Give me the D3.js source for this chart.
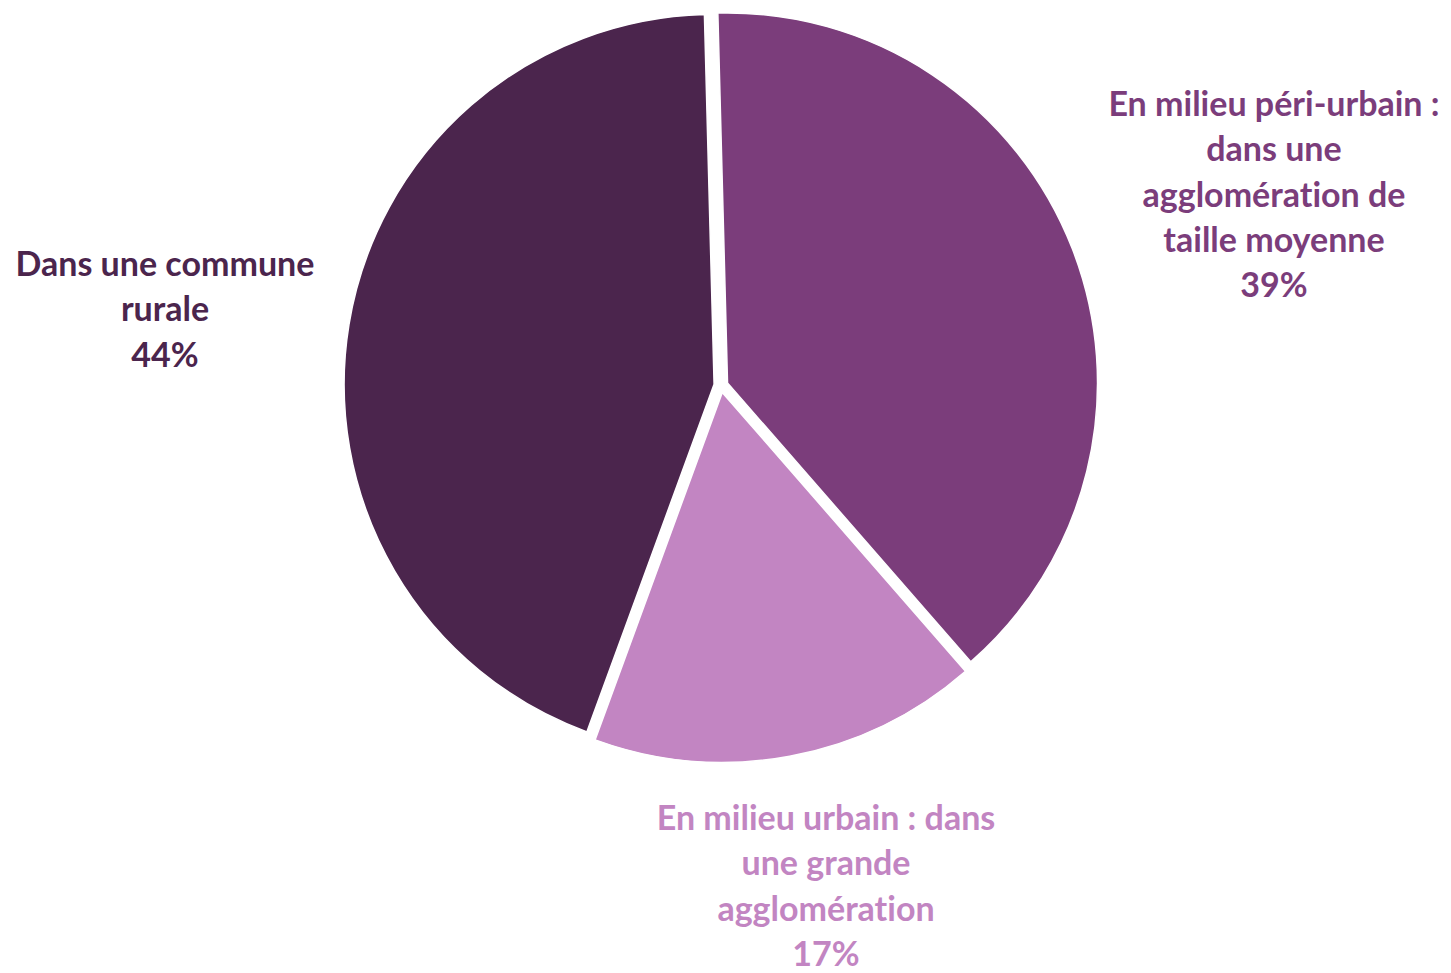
<!DOCTYPE html>
<html>
<head>
<meta charset="utf-8">
<script src="https://cdn.jsdelivr.net/npm/d3@7"></script>
<style>
  body { margin: 0; background: #fff; }
  .lbl { font-family: Lato, "Open Sans", sans-serif; font-weight: bold; font-size: 34px; font-variant-ligatures: none; }
</style>
</head>
<body>
<div class="chart"></div>
<script>
var svgWidth = 1451;
var svgHeight = 973;

// data
var categories = ["En milieu péri-urbain : dans une agglomération de taille moyenne",
                  "En milieu urbain : dans une grande agglomération",
                  "Dans une commune rurale"];
var values = [39, 17, 44];
var colors = ["#7B3D7B", "#C285C2", "#4B254D"];
// label lines as shown on the chart
var labelLines = [
  ["En milieu péri-urbain :", "dans une", "agglomération de", "taille moyenne"],
  ["En milieu urbain : dans", "une grande", "agglomération"],
  ["Dans une commune", "rurale"]
];
var labelPos = [[1274, 116], [826, 830], [165, 276]];

var cx = 721, cy = 385.5, radius = 370, explode = 7;
var lineH = 45.3;

var svg = d3.select(".chart")
  .append("svg")
  .attr("width", svgWidth)
  .attr("height", svgHeight);

var pie = d3.pie()
  .sort(null)
  .startAngle(-1.5 * Math.PI / 180)
  .endAngle(2 * Math.PI - 1.5 * Math.PI / 180);

var arc = d3.arc().innerRadius(0).outerRadius(radius);

var arcs = pie(values);

var pieGroup = svg.append("g")
  .attr("transform", `translate(${cx}, ${cy})`);

pieGroup.selectAll("path")
  .data(arcs)
  .enter()
  .append("path")
  .attr("d", arc)
  .attr("fill", (d, i) => colors[i])
  .attr("stroke", "#fff")
  .attr("stroke-width", 1.5)
  .attr("transform", function (d) {
    var mid = (d.startAngle + d.endAngle) / 2;
    return `translate(${Math.sin(mid) * explode}, ${-Math.cos(mid) * explode})`;
  });

// labels
arcs.forEach(function (d, i) {
  var t = svg.append("text")
    .attr("class", "lbl")
    .attr("text-anchor", "middle")
    .attr("fill", colors[i]);
  var lines = labelLines[i].concat([Math.round(values[i]) + "%"]);
  lines.forEach(function (s, j) {
    t.append("tspan")
      .attr("x", labelPos[i][0])
      .attr("y", labelPos[i][1] + j * lineH)
      .text(s);
  });
});
</script>
</body>
</html>
